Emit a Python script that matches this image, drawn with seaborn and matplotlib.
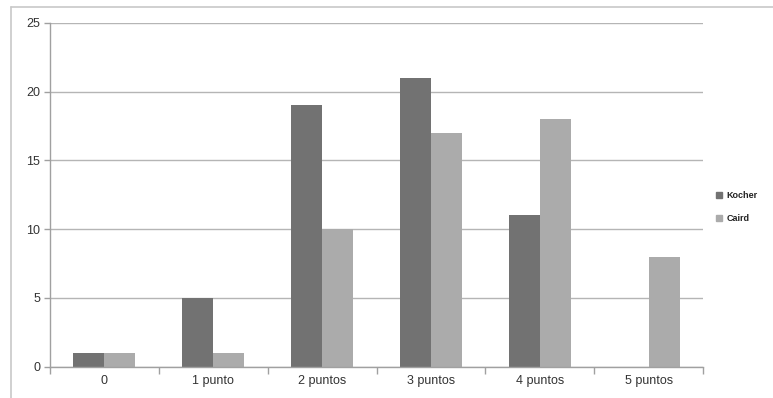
import matplotlib
matplotlib.use("Agg")
import matplotlib.pyplot as plt
from matplotlib.lines import Line2D
import seaborn as sns
import pandas as pd

categories = ["0", "1 punto", "2 puntos", "3 puntos", "4 puntos", "5 puntos"]
kocher = [1, 5, 19, 21, 11, 0]
caird = [1, 1, 10, 17, 18, 8]
series_names = ["Kocher", "Caird"]
yticks = [0, 5, 10, 15, 20, 25]

df = pd.DataFrame({
    "cat": categories * 2,
    "value": kocher + caird,
    "serie": [series_names[0]] * len(categories) + [series_names[1]] * len(categories),
})

sns.set_theme(style="white")
plt.rcParams["font.family"] = ["Liberation Sans", "DejaVu Sans"]

fig = plt.figure(figsize=(7.73, 3.98), dpi=100)
ax = fig.add_axes([0.0647, 0.0786, 0.845, 0.864])

palette = {"Kocher": "#727272", "Caird": "#ababab"}
sns.barplot(data=df, x="cat", y="value", hue="serie", order=categories,
            hue_order=series_names, palette=palette, width=0.57,
            saturation=1, ax=ax, legend=False, edgecolor="none")

ax.set_ylim(0, 25)
ax.set_xlim(-0.5, len(categories) - 0.5)
ax.set_yticks(yticks)
ax.set_yticklabels([str(t) for t in yticks])
ax.yaxis.grid(True, color="#b5b5b5", linewidth=1.0)
ax.set_axisbelow(True)
ax.set_xlabel("")
ax.set_ylabel("")

for s in ["top", "right"]:
    ax.spines[s].set_visible(False)
for s in ["left", "bottom"]:
    ax.spines[s].set_color("#a0a0a0")
    ax.spines[s].set_linewidth(1.0)

# category boundary ticks on the x axis
ax.set_xticks(range(len(categories)))
ax.set_xticklabels(categories)
ax.set_xticks([i - 0.5 for i in range(len(categories) + 1)], minor=True)
ax.tick_params(axis="x", which="major", length=0, labelsize=9, colors="#333333", pad=6)
ax.tick_params(axis="x", which="minor", length=5, width=1, color="#a0a0a0", bottom=True)
ax.tick_params(axis="y", which="major", left=True, length=4, width=1, color="#a0a0a0",
               labelsize=9, labelcolor="#333333", pad=3)

# legend at the right
handles = [Line2D([0], [0], marker="s", linestyle="none", markersize=4,
                  markerfacecolor=palette[n], markeredgecolor=palette[n]) for n in series_names]
leg = fig.legend(handles, series_names, loc="center left", bbox_to_anchor=(0.914, 0.48),
                 frameon=False, prop={"size": 6.5, "weight": "bold"},
                 handletextpad=0.3, labelspacing=1.6, handlelength=1.0)
for t in leg.get_texts():
    t.set_color("#222222")

# outer chart frame
fig.add_artist(Line2D([11 / 773, 11 / 773], [0, 1 - 6.5 / 398], transform=fig.transFigure,
                      color="#c8c8c8", linewidth=1.2))
fig.add_artist(Line2D([11 / 773, 1], [1 - 6.5 / 398, 1 - 6.5 / 398], transform=fig.transFigure,
                      color="#c8c8c8", linewidth=1.2))

fig.savefig("out.png", dpi=100)
